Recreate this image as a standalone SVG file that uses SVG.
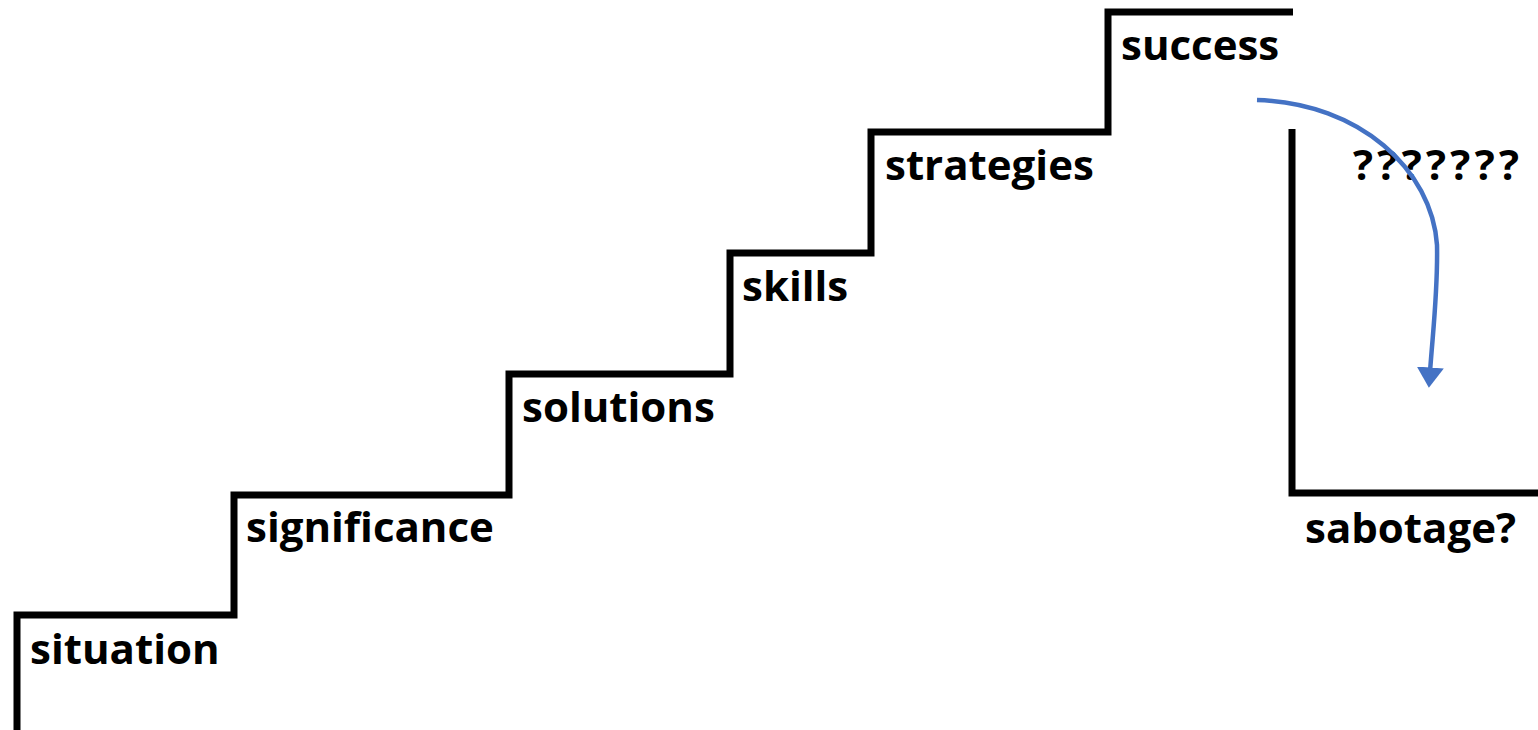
<svg xmlns="http://www.w3.org/2000/svg" width="1538" height="730" viewBox="0 0 1538 730">
  <style>
    .stair { fill: none; stroke: #000; stroke-width: 7; stroke-linejoin: miter; }
    .lbl { font-family: "Open Sans", "Noto Sans", "Liberation Sans", sans-serif; font-weight: 700; font-size: 42px; fill: #000; }
    .arrow { fill: none; stroke: #4472C4; stroke-width: 4.5; }
  </style>
  <defs>
    <marker id="ah" markerWidth="6" markerHeight="6" refX="1" refY="3" orient="auto" markerUnits="strokeWidth">
      <path d="M0,0 L4.5,3 L0,6 Z" fill="#4472C4"/>
    </marker>
  </defs>
  <rect width="1538" height="730" fill="#fff"/>
  <g id="stairs">
    <path class="stair" d="M17,730 V615 H234 V495 H509 V374 H730 V253 H871 V132 H1108 V12 H1293"/>
    <path class="stair" d="M1292,129 V493 H1538"/>
  </g>
  <g id="node-situation"><text class="lbl" x="30" y="664">situation</text></g>
  <g id="node-significance"><text class="lbl" x="246" y="542">significance</text></g>
  <g id="node-solutions"><text class="lbl" x="522" y="422">solutions</text></g>
  <g id="node-skills"><text class="lbl" x="742" y="301">skills</text></g>
  <g id="node-strategies"><text class="lbl" x="885" y="180">strategies</text></g>
  <g id="node-success"><text class="lbl" x="1121" y="60">success</text></g>
  <g id="node-question"><text class="lbl" x="1353" y="180" letter-spacing="4.3">???????</text></g>
  <g id="node-sabotage"><text class="lbl" x="1305" y="543">sabotage?</text></g>
  <g id="connectors">
    <path class="arrow" d="M1257,100 C1360,103 1432,170 1437,245 C1438,290 1433,330 1430,372" marker-end="url(#ah)"/>
  </g>
</svg>
